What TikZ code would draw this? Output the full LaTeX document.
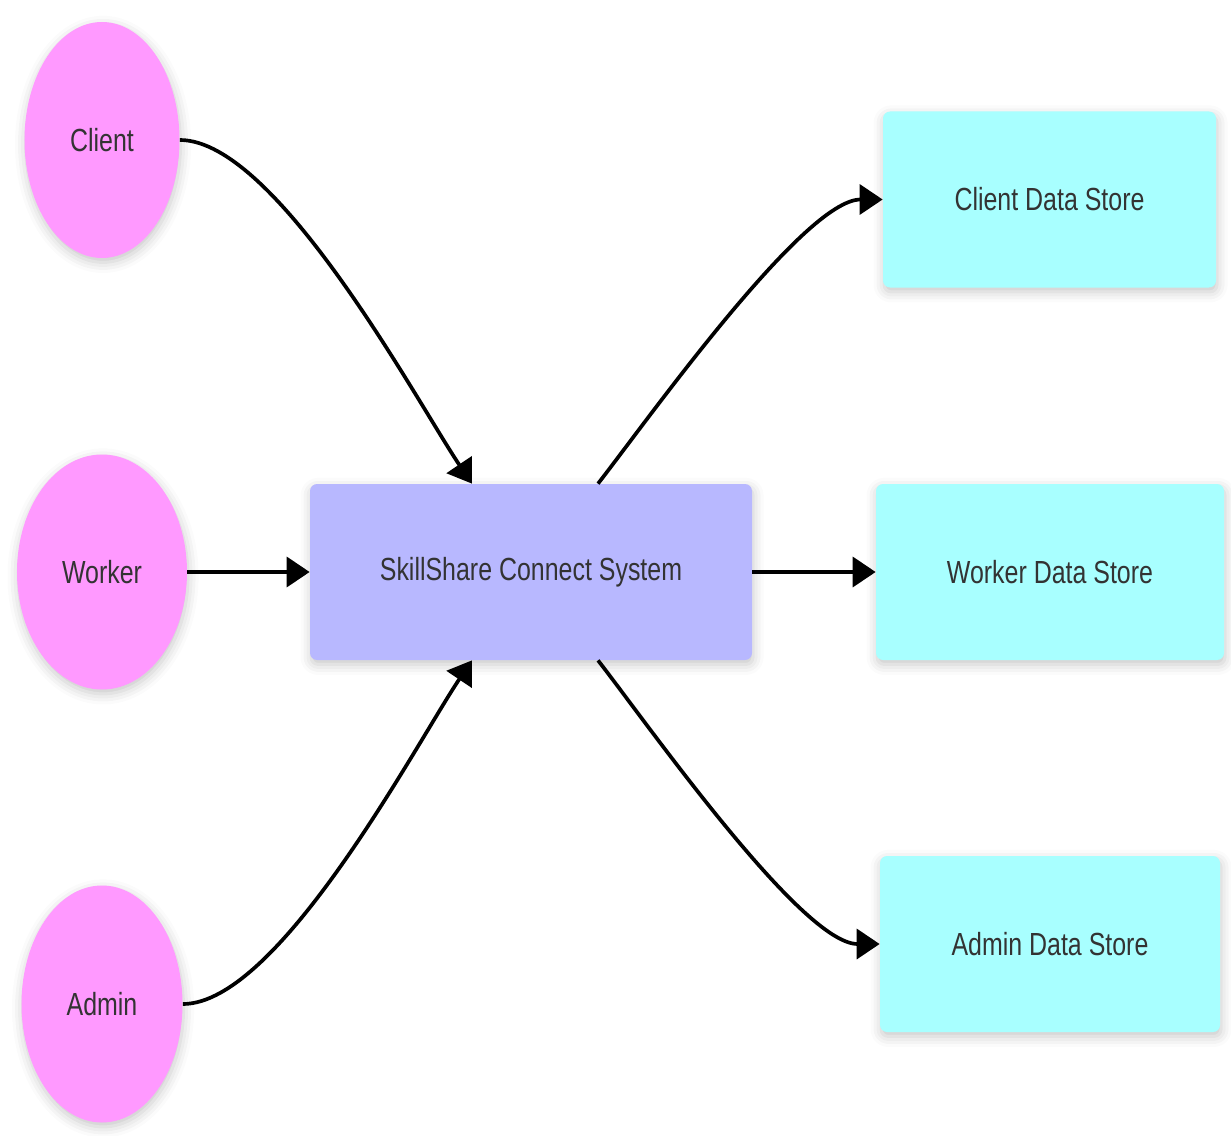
\documentclass[tikz,border=0pt]{standalone}
\usepackage{fontspec}
\newfontfamily\labelfont{Liberation Sans}[FakeStretch=0.78]
\usetikzlibrary{shapes.geometric,arrows.meta,shadows.blur}
\definecolor{actorpink}{HTML}{FF99FF}
\definecolor{systemblue}{HTML}{B8B8FF}
\definecolor{storecyan}{HTML}{A8FFFF}
\definecolor{labelgray}{HTML}{333333}
\begin{document}
\begin{tikzpicture}[
    font=\labelfont\fontsize{18.2}{22}\selectfont,
    text=labelgray,
    softshadow/.style={blur shadow={shadow xshift=0.6pt, shadow yshift=-2.5pt, shadow blur radius=6pt, shadow opacity=22}},
    actor/.style={ellipse, fill=actorpink, inner sep=0pt, softshadow},
    process/.style={rectangle, rounded corners=4pt, fill=systemblue, minimum width=8.84cm, minimum height=3.52cm, softshadow},
    store/.style={rectangle, rounded corners=4pt, fill=storecyan, minimum height=3.52cm, softshadow},
    flow/.style={line width=2.1pt, -{Triangle[length=0.46cm,width=0.6cm]}}
  ]
    \useasboundingbox (0,0) rectangle (24.62,-22.72);
    \node[actor, minimum width=3.10cm, minimum height=4.72cm] (client) at (2.04,-2.80) {Client};
    \node[actor, minimum width=3.40cm, minimum height=4.70cm] (worker) at (2.04,-11.44) {Worker};
    \node[actor, minimum width=3.22cm, minimum height=4.74cm] (admin) at (2.04,-20.08) {Admin};
    \node[process] (system) at (10.62,-11.44) {SkillShare Connect System};
    \node[store, minimum width=6.66cm] (clientstore) at (20.99,-3.99) {Client Data Store};
    \node[store, minimum width=6.96cm] (workerstore) at (21.00,-11.44) {Worker Data Store};
    \node[store, minimum width=6.80cm] (adminstore) at (21.00,-18.88) {Admin Data Store};
    \draw[flow] (client.east) to[out=0, in=124, looseness=0.55] ([xshift=-1.18cm]system.north);
    \draw[flow] (worker.east) -- (system.west);
    \draw[flow] (admin.east) to[out=0, in=-124, looseness=0.55] ([xshift=-1.18cm]system.south);
    \draw[flow] ([xshift=1.34cm]system.north) to[out=52, in=180, looseness=0.5] (clientstore.west);
    \draw[flow] (system.east) -- (workerstore.west);
    \draw[flow] ([xshift=1.34cm]system.south) to[out=-52, in=180, looseness=0.5] (adminstore.west);
\end{tikzpicture}
\end{document}
